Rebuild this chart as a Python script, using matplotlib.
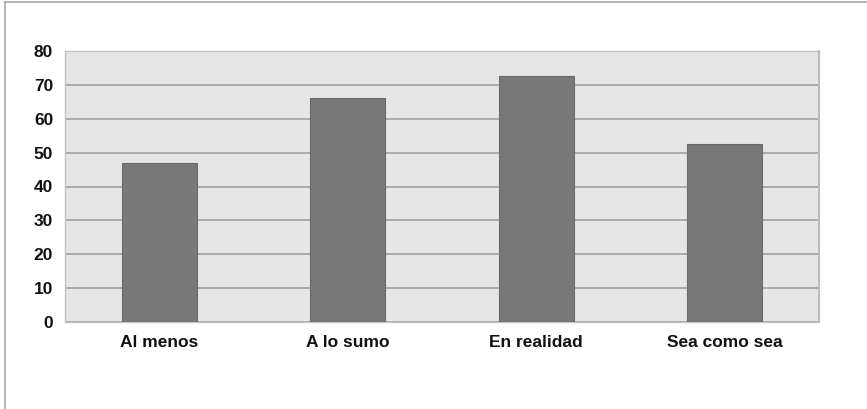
import matplotlib
matplotlib.use("Agg")
import matplotlib.pyplot as plt
from matplotlib.lines import Line2D

matplotlib.rc("font", family=["Liberation Sans", "DejaVu Sans"], weight="bold")

categories = ["Al menos", "A lo sumo", "En realidad", "Sea como sea"]
values = [47, 66, 72.7, 52.4]
y_ticks = [0, 10, 20, 30, 40, 50, 60, 70, 80]


def demo_bar():
    fig = plt.figure(figsize=(8.67, 4.09), dpi=100)
    ax = fig.add_axes([65 / 867, 87 / 409, 754 / 867, 271 / 409])
    ax.set_facecolor("#e6e6e6")

    x = range(len(categories))
    ax.bar(x, values, width=0.4, color="#787878", edgecolor="#6a6a6a",
           linewidth=0.8, zorder=3)

    ax.set_xlim(-0.5, len(categories) - 0.5)
    ax.set_ylim(0, 80)
    ax.set_yticks(y_ticks)
    ax.set_xticks(list(x))
    ax.set_xticklabels(categories)
    ax.yaxis.grid(True, color="#a0a0a0", linewidth=1.2, zorder=1)
    ax.tick_params(axis="both", length=0, labelsize=12.5, colors="#111111")
    ax.tick_params(axis="y", pad=8.5)
    ax.tick_params(axis="x", pad=9.5)
    for side in ["top", "left", "bottom"]:
        ax.spines[side].set_color("#c4c4c4")
        ax.spines[side].set_linewidth(1.0)
    ax.spines["right"].set_color("#bdbdbd")
    ax.spines["right"].set_linewidth(1.5)

    # marco exterior (solo arriba e izquierda)
    fig.add_artist(Line2D([4.5 / 867, 4.5 / 867], [0, 1 - 2 / 409],
                          color="#a8a8a8", linewidth=1.2))
    fig.add_artist(Line2D([4.5 / 867, 1], [1 - 2 / 409, 1 - 2 / 409],
                          color="#a8a8a8", linewidth=1.2))

    fig.savefig("out.png", dpi=100)


if __name__ == '__main__':
    demo_bar()
